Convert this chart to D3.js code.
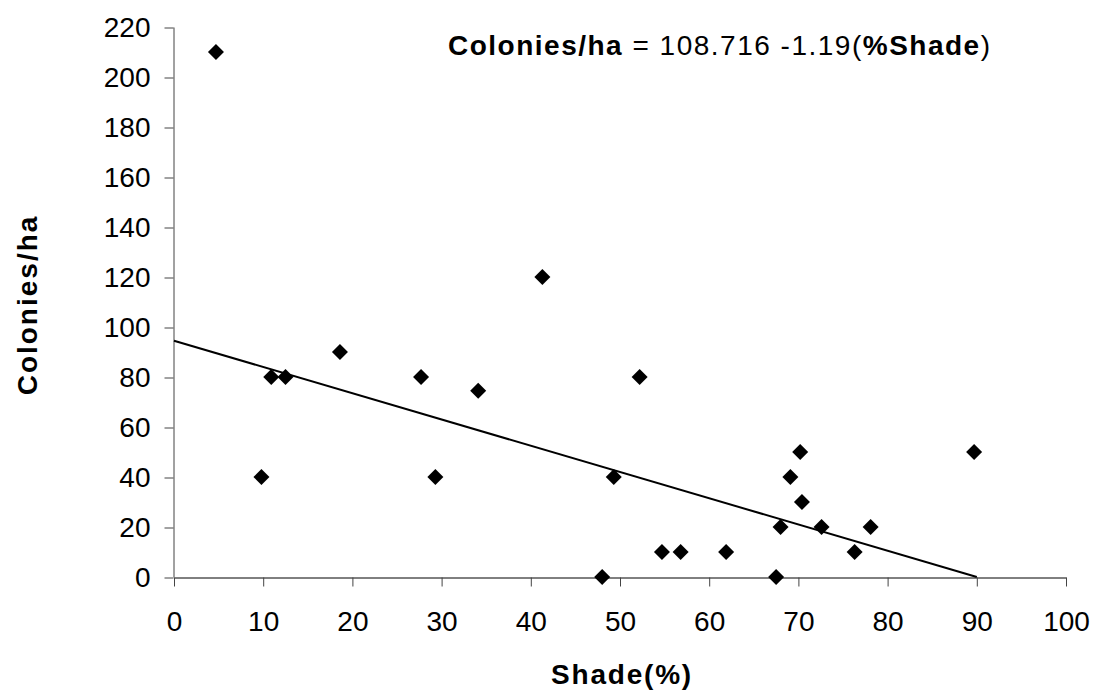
<!DOCTYPE html>
<html>
<head>
<meta charset="utf-8">
<script src="https://cdn.jsdelivr.net/npm/d3@7"></script>
<style>
  body { margin: 0; background: #fff; }
  text { font-family: "Liberation Sans", Arial, sans-serif; fill: #000; }
</style>
</head>
<body>
<div id="chart"></div>
<script>
// shade (%) and colonies per hectare
const shade = [4.7, 9.8, 10.9, 12.5, 18.6, 27.7, 29.3, 34.1, 41.3, 48.0, 49.3, 52.2,
  54.7, 56.8, 61.9, 67.5, 68.0, 69.1, 70.2, 70.4, 72.6, 76.3, 78.1, 89.7];
const colonies = [210, 40, 80, 80, 90, 80, 40, 74.5, 120, 0, 40, 80,
  10, 10, 10, 0, 20, 40, 50, 30, 20, 10, 20, 50];

// fitted line as drawn (end points)
const trendX = [0, 90];
const trendY = [94.5, 0];

const xTicks = [0, 10, 20, 30, 40, 50, 60, 70, 80, 90, 100];
const yTicks = [0, 20, 40, 60, 80, 100, 120, 140, 160, 180, 200, 220];

const width = 1098, height = 694;

const svg = d3.select("#chart")
  .append("svg")
    .attr("width", width)
    .attr("height", height);

const x = d3.scaleLinear().domain([0, 100]).range([174, 1066]);
const y = d3.scaleLinear().domain([0, 220]).range([577, 27]);

// y axis
const yAxis = svg.append("g")
  .attr("transform", "translate(173.5,0)")
  .call(d3.axisLeft(y).tickValues(yTicks).tickSize(9).tickSizeOuter(0).tickPadding(14));
yAxis.select(".domain").attr("stroke", "#444");
yAxis.selectAll(".tick line").attr("stroke", "#444").attr("transform", "translate(0,0.5)");
yAxis.selectAll(".tick text")
  .style("font-size", "28px")
  .attr("dy", "0.35em");

// x axis
const xAxis = svg.append("g")
  .attr("transform", "translate(0,577.5)")
  .call(d3.axisBottom(x).tickValues(xTicks).tickSize(9).tickSizeOuter(0).tickPadding(32));
xAxis.select(".domain").attr("stroke", "#000");
xAxis.selectAll(".tick line").attr("stroke", "#444");
xAxis.selectAll(".tick text")
  .style("font-size", "28px")
  .attr("dy", "0")
  .attr("y", 53);

// trend line
const trend = trendX.map((d, i) => [d, trendY[i]]);
svg.append("path")
  .datum(trend)
  .attr("fill", "none")
  .attr("stroke", "#000")
  .attr("stroke-width", 2)
  .attr("d", d3.line().x(d => x(d[0])).y(d => y(d[1])));

// points
const points = shade.map((d, i) => ({ s: d, c: colonies[i] }));
svg.append("g")
  .selectAll("path")
  .data(points)
  .join("path")
    .attr("d", d3.symbol(d3.symbolSquare, 128))
    .attr("transform", d => `translate(${x(d.s)},${y(d.c)}) rotate(45)`)
    .attr("fill", "#000");

// axis titles
svg.append("text")
  .attr("x", 622)
  .attr("y", 684)
  .attr("text-anchor", "middle")
  .style("font-size", "28px")
  .style("font-weight", "bold")
  .style("letter-spacing", "1.8px")
  .text("Shade(%)");

svg.append("text")
  .attr("transform", "translate(37,305) rotate(-90)")
  .attr("text-anchor", "middle")
  .style("font-size", "28px")
  .style("font-weight", "bold")
  .style("letter-spacing", "2px")
  .text("Colonies/ha");

// equation
const eq = svg.append("text")
  .attr("x", 448)
  .attr("y", 55)
  .style("font-size", "28px")
  .style("letter-spacing", "1.5px");
eq.append("tspan").style("font-weight", "bold").text("Colonies/ha");
eq.append("tspan").text(" = 108.716 -1.19(");
eq.append("tspan").style("font-weight", "bold").text("%Shade");
eq.append("tspan").text(")");
</script>
</body>
</html>
